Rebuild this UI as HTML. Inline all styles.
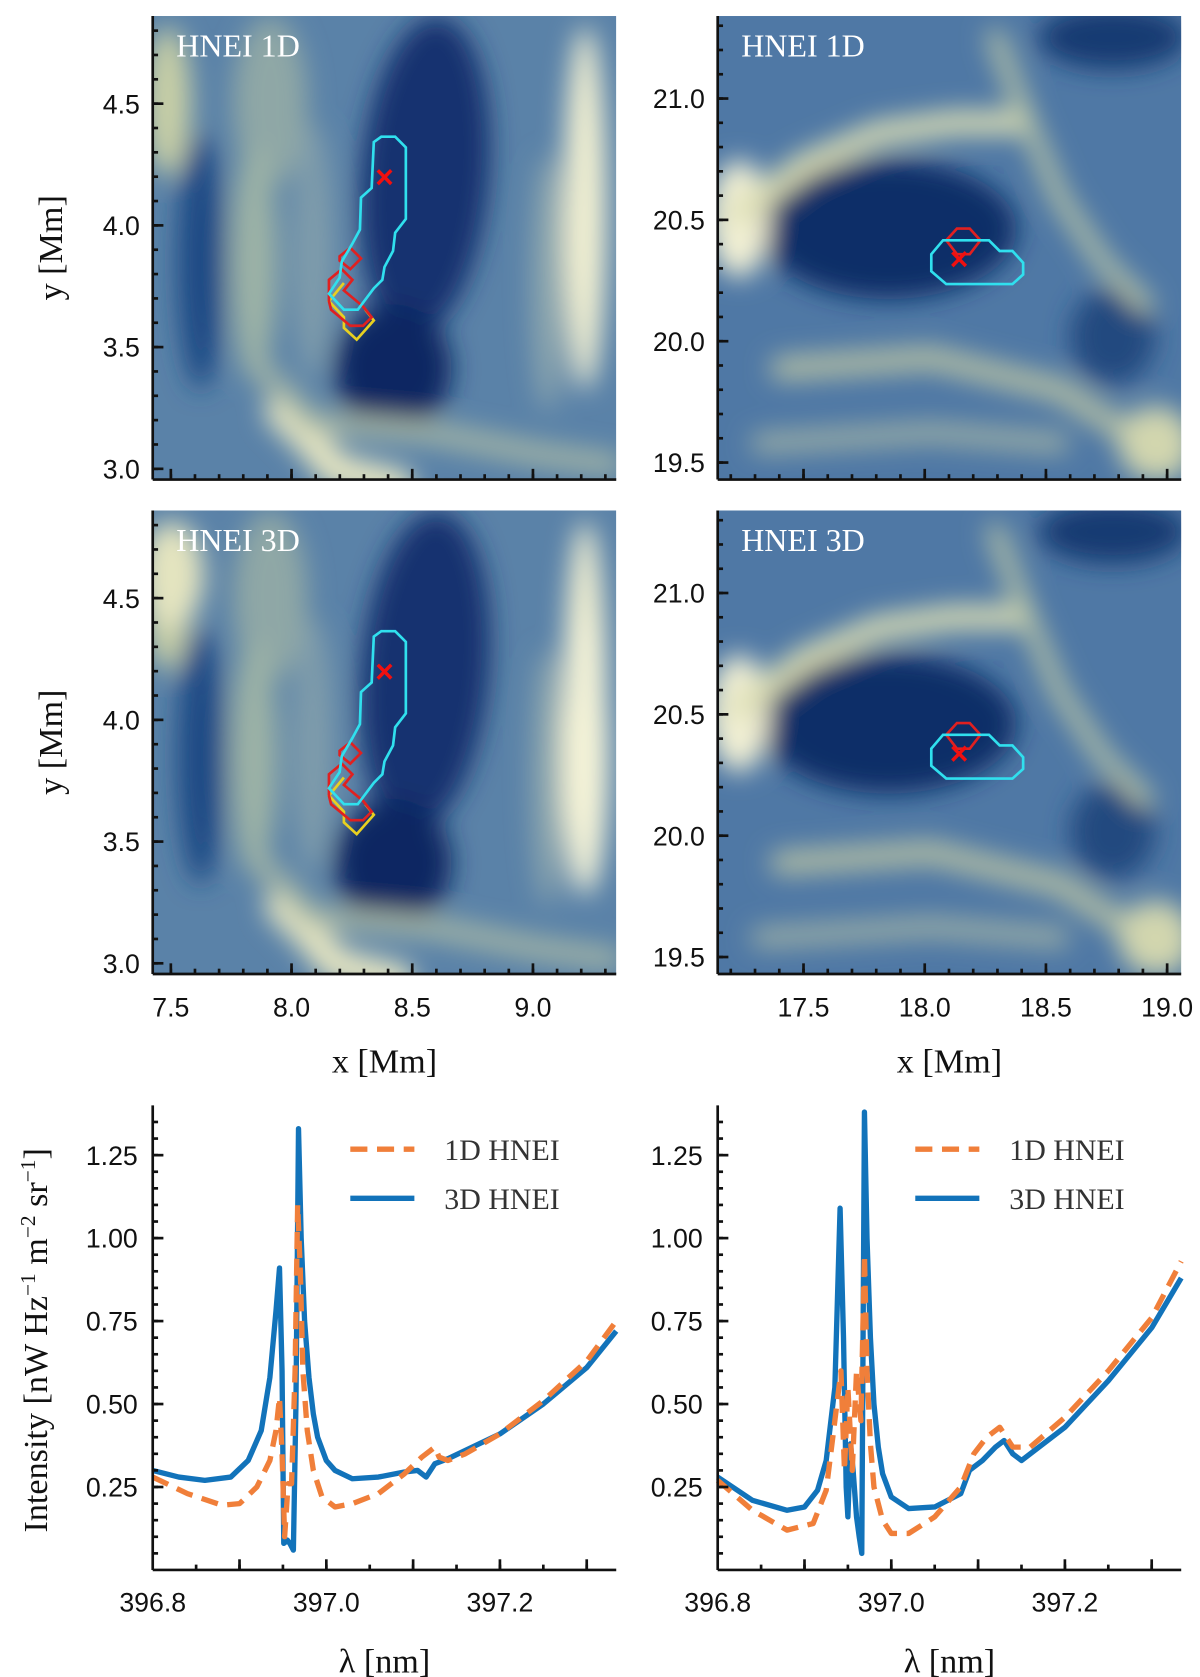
<!DOCTYPE html>
<html><head><meta charset="utf-8">
<style>
body{margin:0;background:#fff;}
svg{display:block;font-family:"Liberation Serif",serif;}
</style></head>
<body>
<svg width="1200" height="1677" viewBox="0 0 1200 1677" xmlns="http://www.w3.org/2000/svg">
<defs>
<filter id="blur" x="-30%" y="-30%" width="160%" height="160%"><feGaussianBlur stdDeviation="12"/></filter>
<clipPath id="c1"><rect x="143" y="15" width="434" height="434"/></clipPath>
<clipPath id="c2"><rect x="672" y="15" width="434" height="434"/></clipPath>
<clipPath id="c3"><rect x="143" y="478" width="434" height="434"/></clipPath>
<clipPath id="c4"><rect x="672" y="478" width="434" height="434"/></clipPath>
</defs>
<g id="fig" transform="scale(1.068)"></g>
</svg>
<script>
// ---- spectra data ----
const lamL3 = [396.80,396.83,396.86,396.89,396.91,396.925,396.935,396.942,396.946,396.949,396.951,396.955,396.958,396.962,396.965,396.968,396.971,396.975,396.98,396.985,396.99,397.00,397.01,397.03,397.06,397.09,397.105,397.115,397.125,397.14,397.20,397.25,397.30,397.334];
const intL3 = [0.30,0.28,0.27,0.28,0.33,0.42,0.58,0.78,0.91,0.60,0.08,0.09,0.08,0.06,0.50,1.33,1.00,0.75,0.58,0.47,0.40,0.33,0.30,0.275,0.28,0.295,0.30,0.28,0.32,0.335,0.41,0.50,0.61,0.72];
const lamL1 = [396.80,396.84,396.88,396.90,396.92,396.935,396.942,396.946,396.949,396.952,396.956,396.960,396.964,396.967,396.970,396.973,396.978,396.985,396.995,397.01,397.03,397.06,397.09,397.11,397.125,397.13,397.14,397.16,397.20,397.25,397.30,397.334];
const intL1 = [0.28,0.23,0.195,0.20,0.25,0.33,0.42,0.52,0.35,0.10,0.26,0.26,0.60,1.10,0.90,0.60,0.42,0.30,0.22,0.19,0.20,0.23,0.29,0.34,0.37,0.34,0.33,0.35,0.41,0.51,0.63,0.75];
const lamR3 = [396.80,396.84,396.88,396.90,396.915,396.925,396.935,396.941,396.945,396.948,396.950,396.953,396.956,396.960,396.963,396.966,396.969,396.972,396.976,396.98,396.985,396.99,397.00,397.02,397.05,397.08,397.09,397.105,397.12,397.13,397.14,397.15,397.20,397.25,397.30,397.334];
const intR3 = [0.28,0.21,0.18,0.19,0.24,0.33,0.55,1.09,0.70,0.25,0.16,0.38,0.30,0.16,0.10,0.05,1.38,1.00,0.70,0.50,0.37,0.29,0.22,0.185,0.19,0.23,0.30,0.33,0.37,0.39,0.35,0.33,0.43,0.57,0.73,0.88];
const lamR1 = [396.80,396.84,396.88,396.91,396.925,396.935,396.942,396.946,396.95,396.955,396.96,396.965,396.969,396.972,396.976,396.98,396.99,397.00,397.02,397.05,397.08,397.095,397.11,397.125,397.14,397.16,397.20,397.25,397.30,397.334];
const intR1 = [0.27,0.18,0.12,0.14,0.24,0.45,0.60,0.30,0.55,0.30,0.60,0.45,0.95,0.60,0.38,0.25,0.15,0.11,0.11,0.16,0.25,0.35,0.40,0.43,0.37,0.37,0.46,0.60,0.76,0.93];
const specXTicks = [396.8,397.0,397.2];
const specYTicks = [0.25,0.50,0.75,1.00,1.25];
const legendLabels = ["1D HNEI","3D HNEI"];

const NS="http://www.w3.org/2000/svg";
const svg=document.getElementById('fig');
function mk(tag,attrs,parent){const e=document.createElementNS(NS,tag);for(const k in attrs)e.setAttribute(k,attrs[k]);(parent||svg).appendChild(e);return e;}
function txt(x,y,s,size,anchor,parent,sans){const t=mk('text',{x:x,y:y,'font-size':size,'text-anchor':anchor||'middle',fill:'#111'},parent);if(sans)t.setAttribute('font-family','"Liberation Sans",sans-serif');t.textContent=s;return t;}

const panels=[
 {x:143,y:15,clip:'c1',title:'HNEI 1D',xr:[7.425,9.345],yr:[2.956,4.86],xt:[7.5,8.0,8.5,9.0],yt:[3.0,3.5,4.0,4.5],side:'L',showX:false},
 {x:672,y:15,clip:'c2',title:'HNEI 1D',xr:[17.146,19.058],yr:[19.43,21.34],xt:[17.5,18.0,18.5,19.0],yt:[19.5,20.0,20.5,21.0],side:'R',showX:false},
 {x:143,y:478,clip:'c3',title:'HNEI 3D',xr:[7.425,9.345],yr:[2.956,4.86],xt:[7.5,8.0,8.5,9.0],yt:[3.0,3.5,4.0,4.5],side:'L',showX:true},
 {x:672,y:478,clip:'c4',title:'HNEI 3D',xr:[17.146,19.058],yr:[19.43,21.34],xt:[17.5,18.0,18.5,19.0],yt:[19.5,20.0,20.5,21.0],side:'R',showX:true}
];
const W=434,H=434;
panels.forEach((p,i)=>{
  const g=mk('g',{'clip-path':'url(#'+p.clip+')'});
  
  
  mk('rect',{x:p.x,y:p.y,width:W,height:H,fill:p.side==='L'?'#5a82a8':'#4f78a5'},g);
  const bg=mk('g',{filter:'url(#blur)'},g);
  const ox=p.x,oy=p.y;
  const E=(cx,cy,rx,ry,f,rot)=>mk('ellipse',{cx:ox+cx,cy:oy+cy,rx:rx,ry:ry,fill:f,transform:'rotate('+(rot||0)+' '+(ox+cx)+' '+(oy+cy)+')'},bg);
  const P=(arr,c,w)=>mk('path',{d:'M'+arr.map(q=>(q[0]+ox)+','+(q[1]+oy)).join(' L'),fill:'none',stroke:c,'stroke-width':w,'stroke-linecap':'round','stroke-linejoin':'round'},bg);
  if(p.side==='L'){
    E(110,80,35,80,'#8fa7a6');
    E(95,230,22,110,'#9db3a6');
    E(150,220,20,120,'#7f9cab');
    E(255,150,60,150,'#123170',5);
    E(225,330,55,60,'#0c2762');
    E(45,230,22,120,'#1f4a84');
    E(405,180,20,170,'#f2f0d2');
    E(370,250,15,120,'#8ea7ae');
    E(14,80,22,70,'#c8cfa6');
    P([[120,370],[150,400],[170,425],[230,440]],'#ebe9c2',30);
    P([[100,330],[150,380],[260,390],[360,410],[430,420]],'#a4b6a6',20);
    if(i===2){E(18,60,30,50,'#e4e4bf');E(405,230,22,130,'#f6f4d8');}
  } else {
    E(160,200,120,65,'#0f2d67');
    E(370,300,40,45,'#21497f');
    E(370,20,70,30,'#163a72');
    E(20,190,28,55,'#f2f0d4');
    P([[20,185],[80,140],[150,110],[220,100],[280,100]],'#dcdeb4',22);
    P([[260,20],[290,100],[320,170],[360,230],[400,270]],'#b8c4a6',16);
    P([[60,330],[200,320],[320,350],[430,420]],'#b2bea4',22);
    P([[40,400],[200,390],[320,400]],'#9fb1a6',18);
    E(410,400,35,35,'#d2d6ae');
  }
  const t=txt(ox+22,oy+38,p.title,30,'start');
  t.setAttribute('fill','#ffffff');
  
  
  const sx=v=>ox+(v-p.xr[0])/(p.xr[1]-p.xr[0])*W;
  const sy=v=>oy+H-(v-p.yr[0])/(p.yr[1]-p.yr[0])*H;
  const ax=mk('g',{stroke:'#111','stroke-width':2.5});
  
  
  mk('line',{x1:ox,y1:oy,x2:ox,y2:oy+H},ax);
  mk('line',{x1:ox,y1:oy+H,x2:ox+W,y2:oy+H},ax);
  for(let v=Math.ceil(p.yr[0]*10)/10;v<=p.yr[1];v+=0.1){const y=sy(v);mk('line',{x1:ox,y1:y,x2:ox+5,y2:y},ax);}
  for(let v=Math.ceil(p.xr[0]*10)/10;v<=p.xr[1];v+=0.1){const x=sx(v);mk('line',{x1:x,y1:oy+H,x2:x,y2:oy+H-5},ax);}
  p.yt.forEach(v=>{const y=sy(v);mk('line',{x1:ox,y1:y,x2:ox+10,y2:y},ax);
    const l=txt(ox-12,y+9,v.toFixed(1),25,'end',svg,true);});
  p.xt.forEach(v=>{const x=sx(v);mk('line',{x1:x,y1:oy+H,x2:x,y2:oy+H-10},ax);
    if(p.showX){const l=txt(x,oy+H+40,v.toFixed(1),25,'middle',svg,true);}});
  if(p.side==='L'){const yl=txt(0,0,'y [Mm]',32);yl.setAttribute('transform','translate(58,'+(oy+H/2)+') rotate(-90)');
    }
  if(p.showX){const xl=txt(ox+W/2,oy+H+92,'x [Mm]',32);}
  const cg=mk('g',{fill:'none','stroke-width':2.5});
  
  
  const pts=a=>a.map(q=>q[0]+','+(q[1]+oy-15)).join(' ');
  if(p.side==='L'){
    mk('polyline',{points:pts([[322,265],[308,282],[322,297],[322,307],[334,318],[350,300],[342,290]]),stroke:'#e8d020'},cg);
    mk('polygon',{points:pts([[318,240],[328,232],[338,242],[328,252],[318,244]]),stroke:'#e02020'},cg);
    mk('polygon',{points:pts([[308,262],[320,252],[330,262],[322,272],[340,287],[348,297],[340,305],[328,305],[310,290],[308,282]]),stroke:'#e02020'},cg);
    mk('polygon',{points:pts([[350,133],[357,128],[370,128],[380,138],[380,205],[370,218],[368,235],[360,250],[358,262],[350,270],[335,290],[322,290],[308,275],[318,260],[320,245],[330,228],[337,215],[338,185],[348,176]]),stroke:'#30e0ee'},cg);
    const x1=mk('text',{x:360,y:oy-15+176,'font-size':30,'text-anchor':'middle',fill:'#f01010','font-weight':'bold','font-family':'"Liberation Sans",sans-serif'},cg);x1.textContent='×';
  } else {
    mk('polygon',{points:pts([[886,225],[896,214],[908,214],[918,225],[908,238],[896,238]]),stroke:'#e02020'},cg);
    mk('polygon',{points:pts([[883,225],[926,225],[936,235],[948,235],[958,246],[958,257],[948,266],[886,266],[872,254],[872,238]]),stroke:'#30e0ee'},cg);
    const x1=mk('text',{x:898,y:oy-15+253,'font-size':30,'text-anchor':'middle',fill:'#f01010','font-weight':'bold','font-family':'"Liberation Sans",sans-serif'},cg);x1.textContent='×';
  }
});

// ---- spectra ----
const specPanels=[
 {x:143,L1:lamL1,I1:intL1,L3:lamL3,I3:intL3,ylab:true},
 {x:672,L1:lamR1,I1:intR1,L3:lamR3,I3:intR3,ylab:false}
];
const sTop=1035,sBot=1470,SW=434;
const lam0=396.8,lam1=397.334,i0=0.0,i1=1.40;
specPanels.forEach((p,k)=>{
  const sx=v=>p.x+(v-lam0)/(lam1-lam0)*SW;
  const sy=v=>sBot-(v-i0)/(i1-i0)*(sBot-sTop);
  const g=mk('g',{});
  
  
  const path=(L,I)=>L.map((l,j)=>(j?'L':'M')+sx(l).toFixed(1)+','+sy(I[j]).toFixed(1)).join(' ');
  const s3=mk('path',{d:path(p.L3,p.I3),fill:'none',stroke:'#1273ba','stroke-width':5,'stroke-linejoin':'round'},g);
  
  
  const s1=mk('path',{d:path(p.L1,p.I1),fill:'none',stroke:'#f07f3a','stroke-width':5,'stroke-dasharray':'16,9','stroke-linejoin':'round'},g);
  
  
  const ax=mk('g',{stroke:'#111','stroke-width':2.5});
  
  
  mk('line',{x1:p.x,y1:sTop,x2:p.x,y2:sBot},ax);
  mk('line',{x1:p.x,y1:sBot,x2:p.x+SW,y2:sBot},ax);
  for(let v=0.05;v<i1;v+=0.05){const y=sy(v);mk('line',{x1:p.x,y1:y,x2:p.x+5,y2:y},ax);}
  for(let v=396.85;v<lam1;v+=0.05){const x=sx(v);mk('line',{x1:x,y1:sBot,x2:x,y2:sBot-5},ax);}
  specYTicks.forEach(v=>{const y=sy(v);mk('line',{x1:p.x,y1:y,x2:p.x+10,y2:y},ax);
    const l=txt(p.x-14,y+9,v.toFixed(2),25,'end',svg,true);});
  [396.9,397.0,397.1,397.2,397.3].forEach(v=>{const x=sx(v);mk('line',{x1:x,y1:sBot,x2:x,y2:sBot-10},ax);});
  specXTicks.forEach(v=>{const x=sx(v);
    const l=txt(x,sBot+39,v.toFixed(1),25,'middle',svg,true);});
  const xl=txt(p.x+SW/2,sBot+96,'λ [nm]',32);
  
  const lg=mk('g',{});
  
  
  mk('line',{x1:p.x+185,y1:1076,x2:p.x+245,y2:1076,stroke:'#f07f3a','stroke-width':5,'stroke-dasharray':'16,9'},lg);
  mk('line',{x1:p.x+185,y1:1122,x2:p.x+245,y2:1122,stroke:'#1273ba','stroke-width':5},lg);
  const e1=txt(p.x+273,1086,legendLabels[0],28,'start',lg);e1.setAttribute('fill','#333');
  const e2=txt(p.x+273,1132,legendLabels[1],28,'start',lg);e2.setAttribute('fill','#333');
  if(p.ylab){
    const yl=mk('text',{'font-size':32,'text-anchor':'middle',fill:'#111',transform:'translate(44,1255) rotate(-90)'});
    yl.innerHTML='Intensity [nW Hz<tspan baseline-shift="super" font-size="20">−1</tspan> m<tspan baseline-shift="super" font-size="20">−2</tspan> sr<tspan baseline-shift="super" font-size="20">−1</tspan>]';
    
    
  }
});
</script>
</body></html>
